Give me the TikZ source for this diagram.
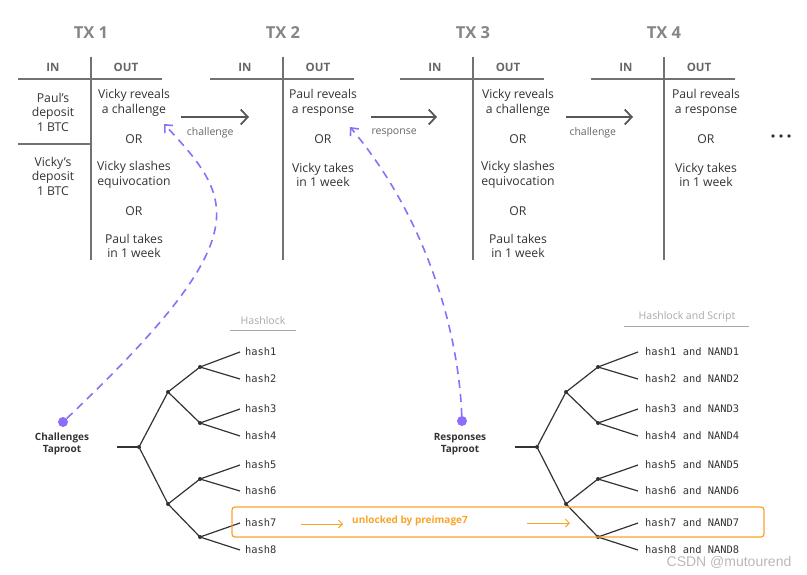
\documentclass[tikz,border=0pt]{standalone}
\usepackage{fontspec}
\setmainfont{Open Sans}
\setmonofont{DejaVu Sans Mono}
\newfontfamily\wmfont{Liberation Sans}
\usetikzlibrary{arrows.meta}
\definecolor{txtgray}{HTML}{333333}
\definecolor{linegray}{HTML}{727272}
\definecolor{titlegray}{HTML}{858585}
\definecolor{headgray}{HTML}{666666}
\definecolor{lightgray}{HTML}{A8A8A8}
\definecolor{purple1}{HTML}{8C6EFA}
\definecolor{orange1}{HTML}{F7A52A}
\tikzset{
  txtitle/.style={text=titlegray, font=\fontsize{16.5}{18}\selectfont\bfseries},
  txhead/.style={text=headgray, font=\fontsize{11.5}{13}\selectfont\bfseries},
  cell/.style={align=center, text=txtgray, font=\fontsize{12.2}{14.5}\selectfont},
  tbl/.style={draw=linegray, line width=2.6pt},
  txarrow/.style={draw=headgray!85!black, line width=1.8pt, -{Straight Barb[length=7pt,width=15pt]}},
  lbl/.style={text=headgray, font=\fontsize{10.5}{12}\selectfont},
  pdot/.style={circle, fill=purple1, minimum size=10pt, inner sep=0pt},
  pdash/.style={draw=purple1, line width=1.6pt, dash pattern=on 8pt off 6pt, -{Straight Barb[length=6pt,width=11pt]}},
  rootlbl/.style={align=center, text=txtgray, font=\fontsize{10}{12}\selectfont\bfseries},
  branch/.style={draw=txtgray, line width=1.2pt},
  leaf/.style={anchor=west, inner xsep=5pt, text=txtgray, font=\fontsize{10.4}{12}\selectfont\ttfamily},
  hdr/.style={text=lightgray, font=\fontsize{10.5}{12}\selectfont},
  hline/.style={draw=lightgray, line width=1pt},
  obox/.style={draw=orange1, line width=1.3pt, rounded corners=3pt},
  oarrow/.style={draw=orange1, line width=1pt, -{Straight Barb[length=4pt,width=8pt]}},
  wm/.style={text=black!28, inner sep=0pt, font=\fontsize{14}{15}\wmfont}
}

\begin{document}
\begin{tikzpicture}[x=1pt,y=-1pt]
\useasboundingbox (0,0) rectangle (807,574);
\foreach \n/\vx in {1/91,2/283,3/473,4/664}
{
\node[txtitle] (tx\n) at (\vx,33) {TX \n};
\draw[tbl] (\vx-73,79) -- (\vx+71,79);
\draw[tbl] (\vx,57) -- (\vx,260);
\node[txhead] (in\n) at (\vx-38,67) {IN};
\node[txhead] (out\n) at (\vx+35,67) {OUT};
}
\node[cell] (i1a) at (53,112) {Paul’s\\deposit\\1 BTC};
\node[cell] (i1b) at (53,176) {Vicky’s\\deposit\\1 BTC};
\draw[line width=1.2pt, linegray] (18,144) -- (90,144);
\foreach \n/\ox in {1/134,3/518}
{
\node[cell] (o\n a) at (\ox,103) {Vicky reveals\\a challenge};
\node[cell] (o\n b) at (\ox,139) {OR};
\node[cell] (o\n c) at (\ox,175) {Vicky slashes\\equivocation};
\node[cell] (o\n d) at (\ox,211) {OR};
\node[cell] (o\n e) at (\ox,246) {Paul takes\\in 1 week};
}
\foreach \n/\ox in {2/323,4/706}
{
\node[cell] (o\n a) at (\ox,103) {Paul reveals\\a response};
\node[cell] (o\n b) at (\ox,139) {OR};
\node[cell] (o\n c) at (\ox,175) {Vicky takes\\in 1 week};
}
\foreach \x in {773,781,789}
\fill[txtgray] (\x,136) circle (1.9pt);
\coordinate (a1s) at (181,117);
\coordinate (a1e) at (249,117);
\coordinate (a2s) at (371,117);
\coordinate (a2e) at (437,117);
\coordinate (a3s) at (566,117);
\coordinate (a3e) at (633,117);
\draw[txarrow] (a1s) -- (a1e) node[lbl, pos=0.43, yshift=-16pt] {challenge};
\draw[txarrow] (a2s) -- (a2e) node[lbl, pos=0.35, yshift=-16pt] {response};
\draw[txarrow] (a3s) -- (a3e) node[lbl, pos=0.4, yshift=-16pt] {challenge};
\node[hdr] (hl) at (263,321) {Hashlock};
\draw[hline] (230,330) -- (296,330);
\node[hdr] (hls) at (687,317) {Hashlock and Script};
\draw[hline] (624,326) -- (749,326);
\foreach \t/\ox/\k in {L/0/0,R/398/1}
{
\coordinate (\t-s) at (117+\ox,447);
\coordinate (\t-r) at (139+\ox,447);
\coordinate (\t-a) at (168+\ox,392);
\coordinate (\t-b) at (168+\ox,504);
\coordinate (\t-aa) at (200+\ox,367);
\coordinate (\t-ab) at (200+\ox,423);
\coordinate (\t-ba) at (200+\ox,479);
\coordinate (\t-bb) at (200+\ox,537);
\draw[branch] (\t-s) -- (\t-r);
\draw[branch] (\t-a) -- (\t-r) -- (\t-b);
\draw[branch] (\t-aa) -- (\t-a) -- (\t-ab);
\draw[branch] (\t-ba) -- (\t-b) -- (\t-bb);
\foreach \i/\y/\p in {1/352/aa,2/379/aa,3/409/ab,4/436/ab,5/465/ba,6/491/ba,7/523/bb,8/550/bb}
{
\node[leaf] (\t-h\i) at (240+\ox,\y) {\ifnum\k=0 hash\i\else\hspace{2pt}hash\i{} and NAND\i\fi};
\draw[branch] (\t-\p) -- (\t-h\i.west);
}
\foreach \c in {r,a,b,aa,ab,ba,bb}
\fill[txtgray] (\t-\c) circle (2pt);
}
\node[pdot] (cdot) at (63,422) {};
\node[rootlbl] (clbl) at (62,444) {Challenges\\Taproot};
\coordinate (cend) at (164,124);
\draw[pdash] (cdot) .. controls (260,235) and (235,200) .. (cend);
\node[pdot] (rdot) at (462,421) {};
\node[rootlbl] (rlbl) at (460,444) {Responses\\Taproot};
\coordinate (rend) at (350,127);
\draw[pdash] (rdot) .. controls (458,320) and (420,210) .. (rend);
\draw[obox] (232,507) rectangle (764,537);
\coordinate (u1s) at (301,524);
\coordinate (u1e) at (343,524);
\coordinate (u2s) at (527,523);
\coordinate (u2e) at (570,523);
\draw[oarrow] (u1s) -- (u1e);
\draw[oarrow] (u2s) -- (u2e);
\node[text=orange1, font=\fontsize{10}{12}\selectfont\bfseries] (unl) at (410,521) {unlocked by preimage7};
\node[wm] (csdn) at (729,562) {CSDN @mutourend};
\end{tikzpicture}
\end{document}
